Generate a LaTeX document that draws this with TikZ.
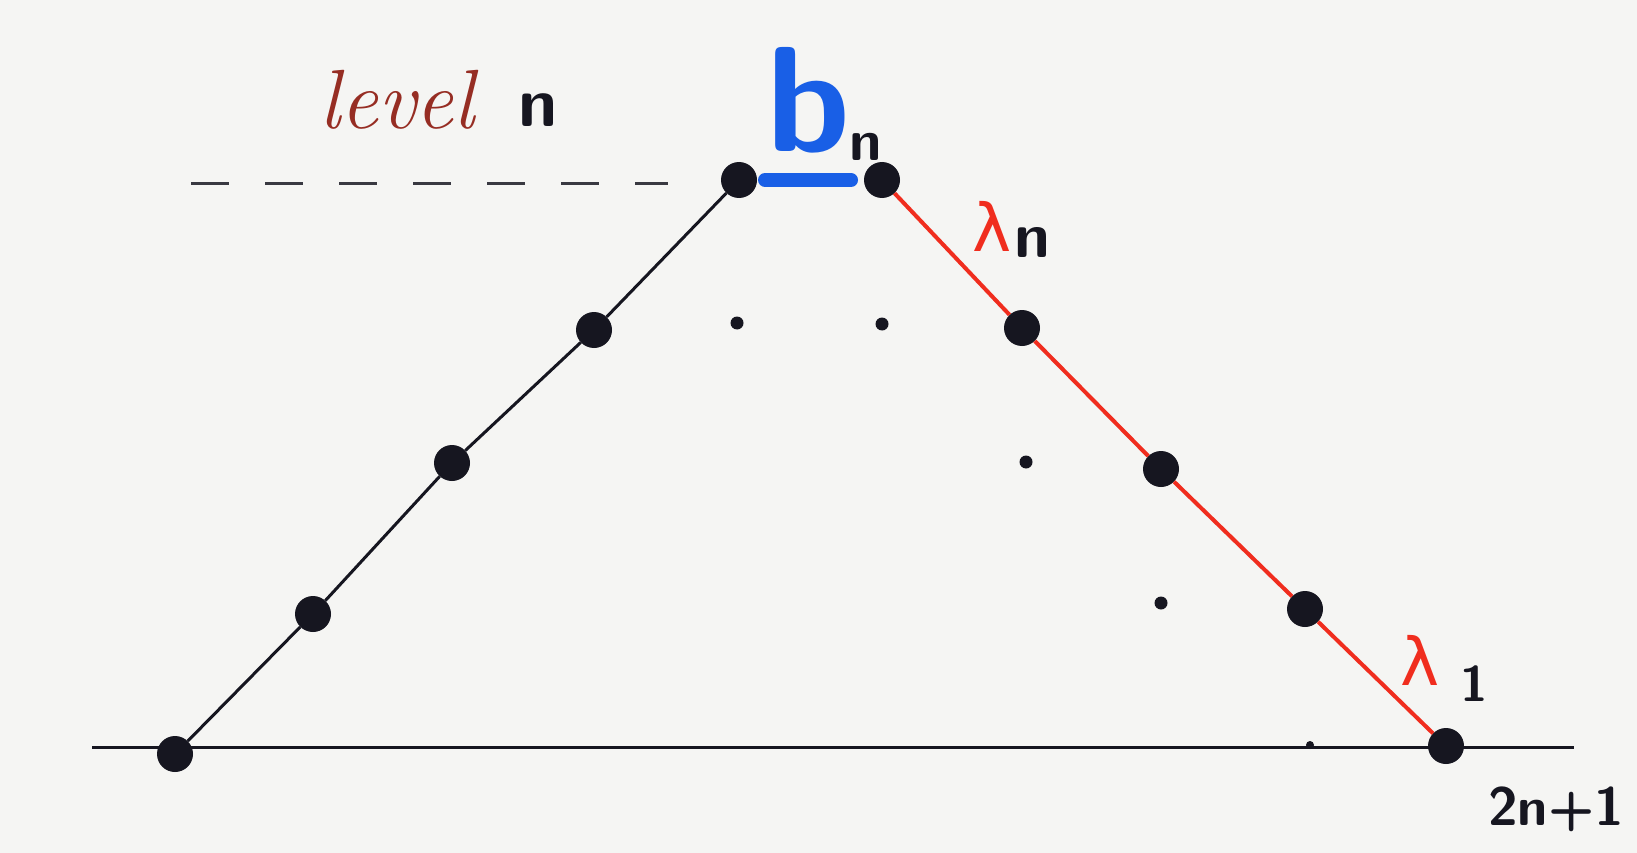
\documentclass[tikz,border=0pt]{standalone}
\usepackage{fontspec}
\newfontfamily\dejavu{DejaVu Sans}
\definecolor{paper}{RGB}{245,245,243}
\definecolor{ink}{RGB}{22,22,32}
\definecolor{redink}{RGB}{240,45,30}
\definecolor{blueink}{RGB}{25,95,230}
\definecolor{brownink}{RGB}{150,45,35}
\tikzset{
  bigdot/.style={circle,fill=ink,inner sep=0pt,minimum size=36pt},
  smalldot/.style={circle,fill=ink,inner sep=0pt,minimum size=13pt},
  inkline/.style={draw=ink,line width=3pt},
  redline/.style={draw=redink,line width=4pt},
  lbl/.style={inner sep=0pt,font=\sffamily\bfseries\fontsize{64}{70}\selectfont,text=ink},
  lam/.style={inner sep=0pt,text=redink,font=\dejavu\fontsize{66}{70}\selectfont},
}
\begin{document}
\begin{tikzpicture}[x=1pt,y=-1pt]
\fill[paper] (0,0) rectangle (1637,853);
\useasboundingbox (0,0) rectangle (1637,853);
% dots
\node[bigdot] (l0) at (175,754) {};
\node[bigdot] (l1) at (313,614) {};
\node[bigdot] (l2) at (452,463) {};
\node[bigdot] (l3) at (594,330) {};
\node[bigdot] (tl) at (739,180) {};
\node[bigdot] (tr) at (882,180) {};
\node[bigdot] (r3) at (1022,328) {};
\node[bigdot] (r2) at (1161,469) {};
\node[bigdot] (r1) at (1305,609) {};
\node[bigdot] (r0) at (1446,746) {};
\node[smalldot] (s1) at (737,323) {};
\node[smalldot] (s2) at (882,324) {};
\node[smalldot] (s3) at (1026,462) {};
\node[smalldot] (s4) at (1161,603) {};
\node[smalldot,minimum size=8pt] (s5) at (1310,745) {};
% base line
\coordinate (bl) at (92,747);
\coordinate (br) at (1574,747);
\draw[inkline] (bl) -- (br);
% left side
\draw[inkline] (l0) -- (l1) -- (l2) -- (l3) -- (tl);
% right side
\draw[redline] (tr) -- (r3) -- (r2) -- (r1) -- (r0);
% dashed level line
\coordinate (d0) at (191,184);
\coordinate (d1) at (668,184);
\draw[draw=ink!85,line width=3pt,dash pattern=on 38pt off 36pt] (d0) -- (d1);
% blue bar
\draw[blueink,line width=14pt,line cap=round] (765,180) -- (851,180);
% labels
\node[inner sep=0pt,text=brownink,font=\itshape\fontsize{84}{90}\selectfont] (lev) at (397,100) {level};
\node[lbl,font=\sffamily\bfseries\fontsize{70}{72}\selectfont] (levn) at (538,110) {n};
\node[inner sep=0pt,text=blueink,font=\sffamily\bfseries\fontsize{150}{150}\selectfont] (b) at (809,100) {b};
\node[lbl,font=\sffamily\bfseries\fontsize{58}{60}\selectfont] (bn) at (866,147) {n};
\node[lam] (lamn) at (992,226) {λ};
\node[lbl,font=\sffamily\bfseries\fontsize{64}{66}\selectfont] (lamnn) at (1032,242) {n};
\node[lam] (lam1) at (1420,660) {λ};
\node[lbl,font=\sffamily\bfseries\fontsize{50}{54}\selectfont] (lam11) at (1474,684) {1};
\node[lbl,font=\sffamily\bfseries\fontsize{54}{60}\selectfont] (top) at (1556,809) {2n+1};
\end{tikzpicture}
\end{document}
